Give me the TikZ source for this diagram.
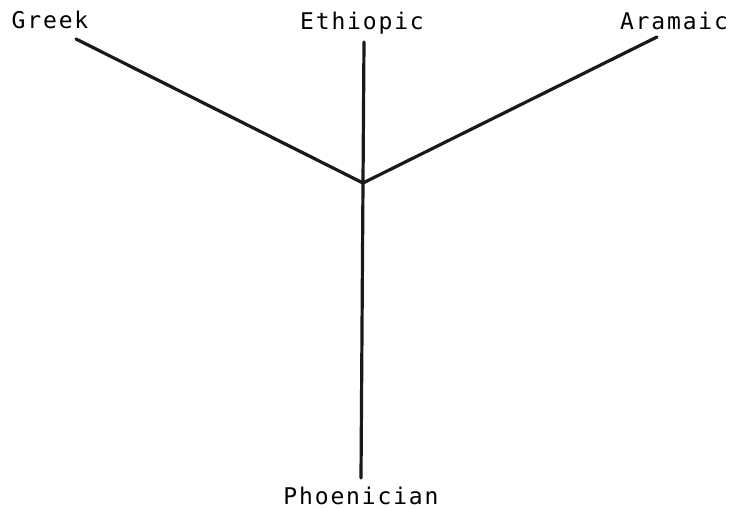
\documentclass[tikz,border=0pt]{standalone}
\usepackage{fontspec}
\newfontfamily\labfont[LetterSpace=8]{DejaVu Sans Mono}
\begin{document}
\begin{tikzpicture}[x=1pt,y=-1pt,
  lab/.style={font=\labfont\fontsize{23}{25}\selectfont, inner sep=0pt, anchor=base},
  branch/.style={line width=3.2pt, line cap=round, black!90}]
\useasboundingbox (0,0) rectangle (732,510);
\node[lab] (greek) at (50,29) {Greek};
\node[lab] (ethiopic) at (362,30) {Ethiopic};
\node[lab] (aramaic) at (674,30) {Aramaic};
\node[lab] (phoenician) at (361,505) {Phoenician};
\coordinate (g) at (76,39);
\coordinate (e) at (364,42);
\coordinate (a) at (657,37);
\coordinate (j) at (363,183);
\coordinate (p) at (361,478);
\draw[branch] (g) -- (j);
\draw[branch] (a) -- (j);
\draw[branch] (e) -- (j) -- (p);
\end{tikzpicture}
\end{document}
